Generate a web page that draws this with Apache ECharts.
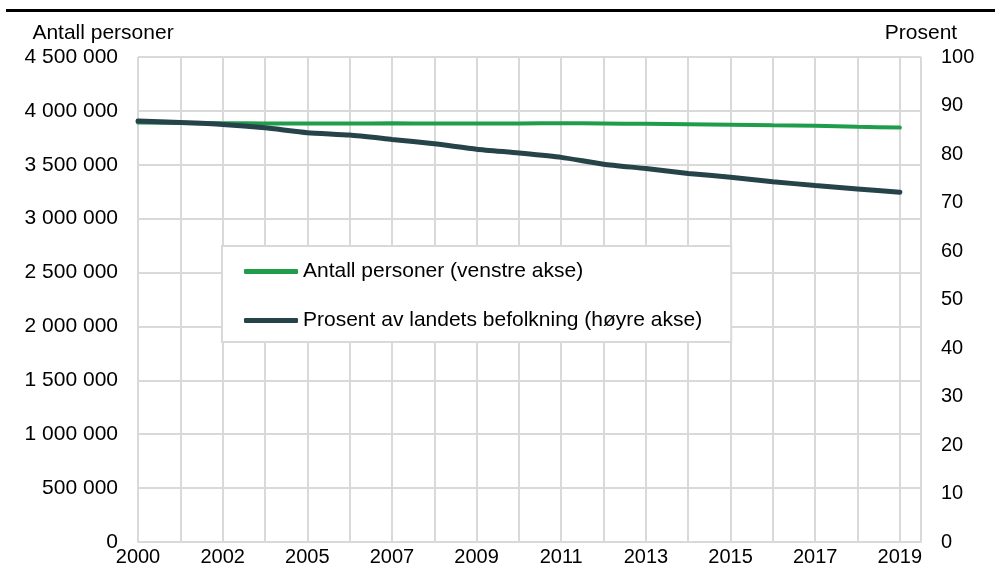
<!DOCTYPE html>
<html>
<head>
<meta charset="utf-8">
<script src="https://cdn.jsdelivr.net/npm/echarts@6/dist/echarts.min.js"></script>
<style>
html,body{margin:0;padding:0;background:#fff;}
#chart{width:995px;height:583px;}
</style>
</head>
<body>
<div id="chart"></div>
<script>
// Categories (x axis) – Excel shows every second category label
var years = ['2000','2001','2002','2004','2005','2006','2007','2008','2009','2010','2011','2012','2013','2014','2015','2016','2017','2018','2019'];
// Antall personer (venstre akse)
var persons = [3892000,3888000,3885000,3884000,3883000,3882000,3885000,3883000,3882000,3884000,3885000,3883000,3880000,3876000,3872000,3866000,3862000,3853000,3845000];
// Prosent av landets befolkning (høyre akse)
var percent = [86.8,86.5,86.1,85.4,84.4,83.9,83.0,82.1,81.0,80.2,79.3,77.9,77.0,76.0,75.2,74.3,73.5,72.8,72.1];

var seriesNames = ['Antall personer (venstre akse)', 'Prosent av landets befolkning (høyre akse)'];
var leftAxisName = 'Antall personer';
var rightAxisName = 'Prosent';

var FONT = '"Liberation Sans", Arial, sans-serif';
var GRID = '#d9d9d9';

function fmtThousands(v){
  return String(v).replace(/\B(?=(\d{3})+(?!\d))/g, ' ');
}

var chart = echarts.init(document.getElementById('chart'), null, {renderer:'canvas'});
chart.setOption({
  animation:false,
  backgroundColor:'#fff',
  textStyle:{fontFamily:FONT, color:'#000'},
  graphic:[{
    type:'line',
    shape:{x1:6, y1:10.5, x2:995, y2:10.5},
    style:{stroke:'#000', lineWidth:3}
  }],
  grid:{left:138, right:74, top:57, bottom:41, containLabel:false},
  legend:{
    orient:'vertical',
    left:222, top:246,
    backgroundColor:'#fff',
    borderColor:GRID, borderWidth:2,
    padding:[15,29,11,22],
    itemGap:28,
    itemWidth:54, itemHeight:5,
    icon:'roundRect',
    textStyle:{fontFamily:FONT, fontSize:21, color:'#000'},
    data:seriesNames
  },
  xAxis:{
    type:'value',
    min:0, max:18.5, interval:1,
    axisLine:{show:true, lineStyle:{color:GRID, width:2}},
    axisTick:{show:false},
    splitLine:{show:true, lineStyle:{color:GRID, width:2}},
    axisLabel:{
      fontFamily:FONT, fontSize:20, color:'#000', margin:5,
      showMinLabel:true, showMaxLabel:true,
      formatter:function(v){
        return (Number.isInteger(v) && v % 2 === 0 && years[v]) ? years[v] : '';
      }
    }
  },
  yAxis:[{
    type:'value', position:'left',
    min:0, max:4500000, interval:500000,
    name:leftAxisName, nameLocation:'end', nameGap:24,
    nameTextStyle:{fontFamily:FONT, fontSize:21, color:'#000', align:'center', verticalAlign:'middle', padding:[0,70,0,0]},
    axisLine:{show:false}, axisTick:{show:false},
    splitLine:{show:true, lineStyle:{color:GRID, width:2}},
    axisLabel:{fontFamily:FONT, fontSize:21, color:'#000', margin:20, formatter:fmtThousands}
  },{
    type:'value', position:'right',
    min:0, max:100, interval:10,
    name:rightAxisName, nameLocation:'end', nameGap:24,
    nameTextStyle:{fontFamily:FONT, fontSize:21, color:'#000', align:'center', verticalAlign:'middle'},
    axisLine:{show:false}, axisTick:{show:false},
    splitLine:{show:false},
    axisLabel:{fontFamily:FONT, fontSize:20, color:'#000', margin:20}
  }],
  series:[{
    name:seriesNames[0],
    type:'line', yAxisIndex:0,
    data:years.map(function(y,i){return [i, persons[i]];}),
    symbol:'none', smooth:0.2,
    lineStyle:{color:'#1f9d4b', width:4, cap:'round'},
    itemStyle:{color:'#1f9d4b'},
    z:3
  },{
    name:seriesNames[1],
    type:'line', yAxisIndex:1,
    data:years.map(function(y,i){return [i, percent[i]];}),
    symbol:'none', smooth:0.2,
    lineStyle:{color:'#26434a', width:5, cap:'round'},
    itemStyle:{color:'#26434a'},
    z:4
  }]
});
</script>
</body>
</html>
